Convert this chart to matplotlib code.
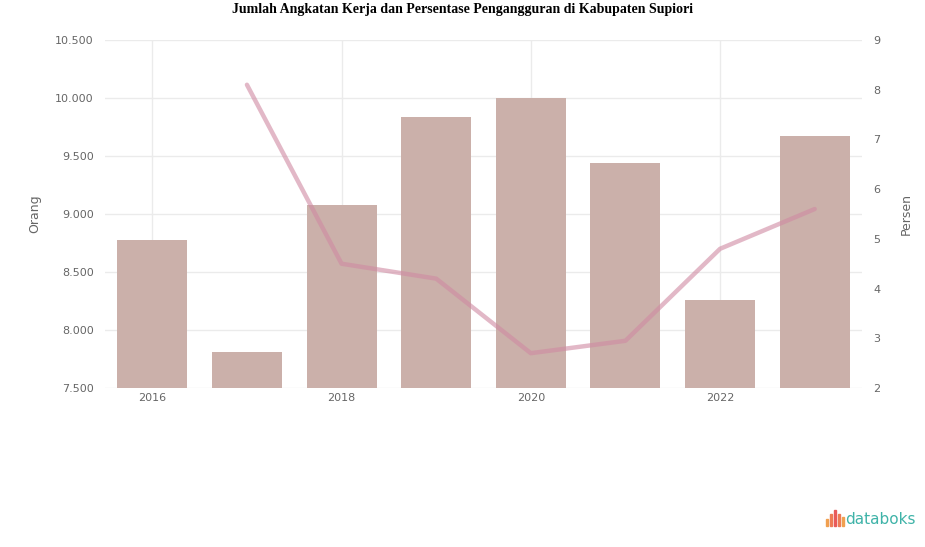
import matplotlib
matplotlib.use("Agg")
import matplotlib.pyplot as plt
import numpy as np
from matplotlib.patches import Rectangle

years = ["2016", "2017", "2018", "2019", "2020", "2021", "2022", "2023"]
angkatan_kerja = [8780, 7810, 9080, 9840, 10000, 9440, 8260, 9670]
pengangguran = [np.nan, 8.1, 4.5, 4.2, 2.7, 2.95, 4.8, 5.6]
left_ticks = [7500, 8000, 8500, 9000, 9500, 10000, 10500]
right_ticks = [2, 3, 4, 5, 6, 7, 8, 9]

title = "Jumlah Angkatan Kerja dan Persentase Pengangguran di Kabupaten Supiori"

fig = plt.figure(figsize=(9.25, 5.47), dpi=100)
ax = fig.add_axes([105/925, 1-388/547, (862-105)/925, (388-40)/547])
x = np.arange(len(years))
ax.bar(x, np.array(angkatan_kerja) - left_ticks[0], bottom=left_ticks[0], width=0.74,
       color="#cbb0aa", zorder=2)
ax.set_xlim(-0.5, len(years) - 0.5)
ax.set_ylim(left_ticks[0], left_ticks[-1])
ax.set_yticks(left_ticks)
ax.set_yticklabels([f"{v:,}".replace(",", ".") for v in left_ticks])
ax.set_xticks(x[::2])
ax.set_xticklabels(years[::2])
ax.grid(axis="both", color="#ebebeb", linewidth=1, zorder=0)
ax.set_axisbelow(True)
for s in ax.spines.values():
    s.set_visible(False)
ax.tick_params(axis="both", length=0, colors="#666666", labelsize=8)
ax.tick_params(axis="y", pad=8)
ax.set_ylabel("Orang", color="#666666", fontsize=9, labelpad=10)

ax2 = ax.twinx()
ax2.plot(x, pengangguran, color="#d08aa2", linewidth=3.2, alpha=0.6, zorder=3,
         solid_capstyle="round", solid_joinstyle="round")
ax2.set_ylim(right_ticks[0], right_ticks[-1])
ax2.set_yticks(right_ticks)
for s in ax2.spines.values():
    s.set_visible(False)
ax2.tick_params(axis="y", length=0, colors="#666666", labelsize=8, pad=8)
ax2.set_ylabel("Persen", color="#666666", fontsize=9, labelpad=14)

fig.text(0.5, 1-10/547, title, ha="center", va="center", fontsize=10,
         fontweight="bold", family="Liberation Serif")

# databoks logo
heights = [0.012, 0.022, 0.03, 0.022, 0.016]
cols = ["#f0a050", "#ee7b55", "#e85a5a", "#ee7b55", "#f0a050"]
for i, (h, c) in enumerate(zip(heights, cols)):
    fig.patches.append(Rectangle((826/925 + i*0.0042, 1-526/547), 0.0025, h,
                                 transform=fig.transFigure, color=c))
fig.text(845/925, 1-519/547, "databoks", ha="left", va="center", fontsize=11,
         color="#3fb3a8", family="DejaVu Sans")

fig.savefig("out.png", dpi=100)
